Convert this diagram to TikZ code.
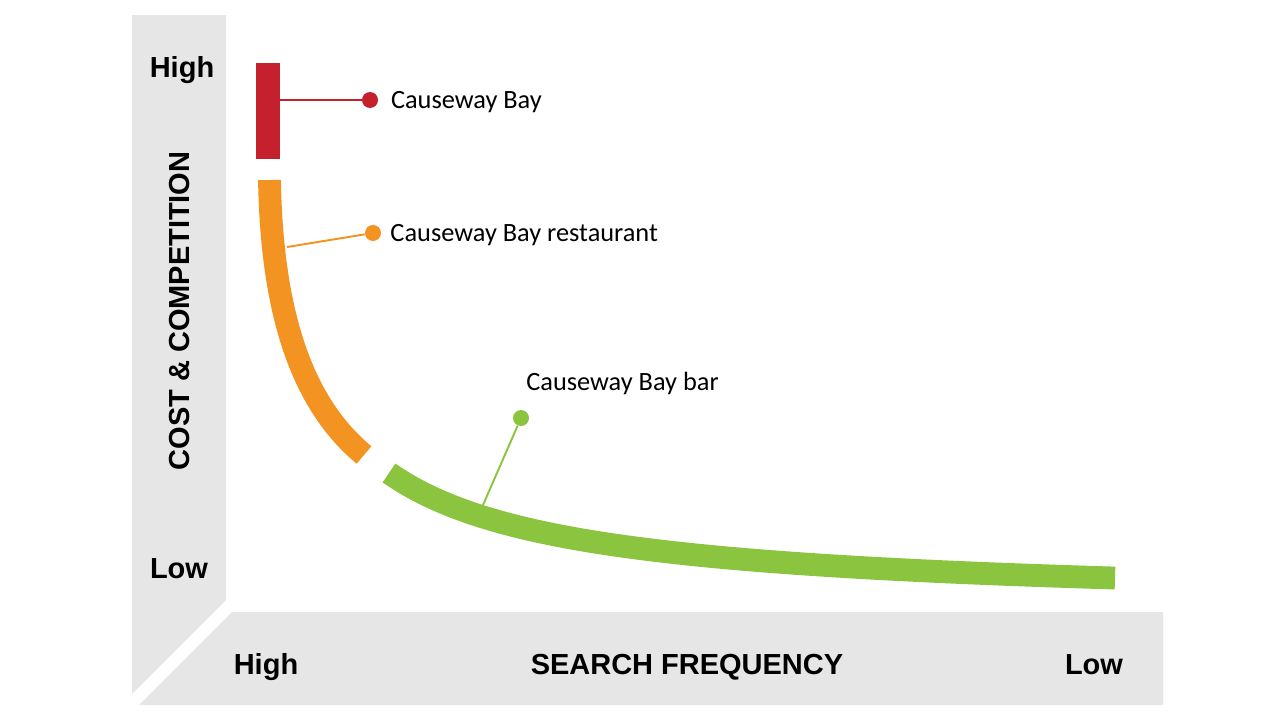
\documentclass[tikz,border=0pt]{standalone}
\usepackage{fontspec}
\setmainfont{Carlito}
\newfontfamily\axisfont{Liberation Sans}
\usetikzlibrary{positioning}

\definecolor{cbred}{RGB}{196,32,45}
\definecolor{cborange}{RGB}{243,147,34}
\definecolor{cbgreen}{RGB}{139,197,64}
\definecolor{axisgray}{RGB}{230,230,230}

\tikzset{
  axisbar/.style={fill=axisgray},
  axislabel/.style={font=\axisfont\bfseries\fontsize{16.5}{20}\selectfont, inner sep=0pt, anchor=base},
  curveband/.style={line width=13pt},
  pin/.style={line width=1.1pt},
  dot/.style={circle, inner sep=0pt, minimum size=0.32cm},
  tag/.style={font=\fontsize{15}{18}\selectfont, inner sep=0pt, anchor=west, yshift=-1pt}
}

\begin{document}
\begin{tikzpicture}[x=0.02cm, y=-0.02cm]
  \useasboundingbox (0,0) rectangle (1280,720);

  % axes
  \fill[axisbar] (132,15) -- (226,15) -- (226,600) -- (132,694) -- cycle;
  \fill[axisbar] (232,612) -- (1163,612) -- (1163,705) -- (139,705) -- cycle;
  \node[axislabel] (yhigh) at (182,77) {High};
  \node[axislabel] (ylow) at (179,578) {Low};
  \node[axislabel, anchor=center, rotate=90] (ytitle) at (180,311) {COST \& COMPETITION};
  \node[axislabel] (xhigh) at (266,674) {High};
  \node[axislabel] (xtitle) at (687,674) {SEARCH FREQUENCY};
  \node[axislabel] (xlow) at (1094,674) {Low};

  % curve pieces
  \node[fill=cbred, inner sep=0pt, minimum width=0.48cm, minimum height=1.92cm] (bay) at (268,111) {};
  \draw[curveband, cborange] (269.5,180) .. controls (272,330) and (310,410) .. (364,455);
  \draw[curveband, cbgreen] plot[domain=389:1115, samples=80, smooth] (\x, {605.4-250.3/((\x-200)/100)});

  % attach points on the curve
  \coordinate (c1) at (280,100);
  \coordinate (c2) at (287,247);
  \coordinate (c3) at (483,505);

  % labels
  \node[dot, fill=cbred] (d1) at (370,100) {};
  \node[dot, fill=cborange] (d2) at (373,233) {};
  \node[dot, fill=cbgreen] (d3) at (521,418) {};
  \draw[pin, cbred] (c1) -- (d1);
  \draw[pin, cborange] (c2) -- (d2);
  \draw[pin, cbgreen] (c3) -- (d3);
  \node[tag, right=7pt of d1] (t1) {Causeway Bay};
  \node[tag, right=5pt of d2] (t2) {Causeway Bay restaurant};
  \node[tag] (t3) at (526,382) {Causeway Bay bar};
\end{tikzpicture}
\end{document}
